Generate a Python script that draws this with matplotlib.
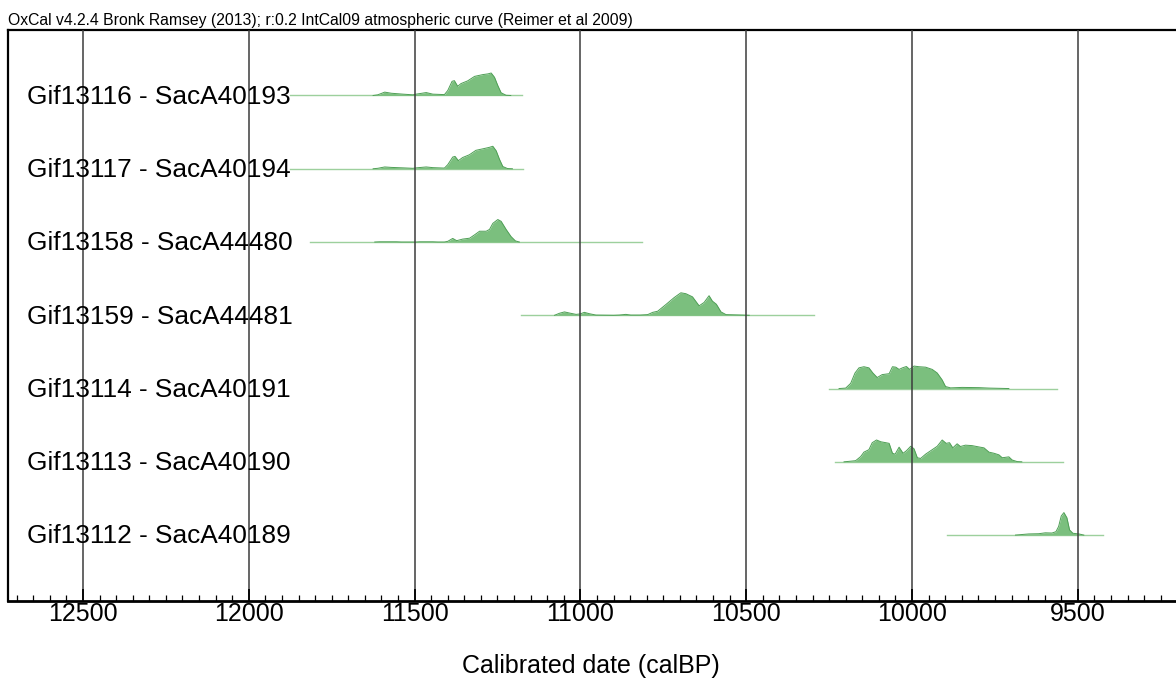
import matplotlib
matplotlib.use("Agg")
import matplotlib.pyplot as plt
from matplotlib.ticker import MultipleLocator
from matplotlib.transforms import blended_transform_factory

plt.rcParams['font.family'] = ['Liberation Sans', 'DejaVu Sans']

# ---------------- data ----------------
labels = ["Gif13116 - SacA40193", "Gif13117 - SacA40194", "Gif13158 - SacA44480",
          "Gif13159 - SacA44481", "Gif13114 - SacA40191", "Gif13113 - SacA40190",
          "Gif13112 - SacA40189"]
range_start = [11875, 11875, 11816, 11178, 10250, 10232, 9895]
range_end = [11175, 11172, 10813, 10295, 9563, 9545, 9425]

years_1 = [11625, 11611, 11590, 11570, 11535, 11505, 11495, 11465, 11445, 11410, 11400, 11387, 11380,
           11370, 11360, 11340, 11319, 11294, 11279, 11269, 11259, 11249, 11239, 11224, 11210]
dens_1 = [0, 0.03, 0.15, 0.10, 0.06, 0.03, 0.06, 0.13, 0.06, 0.04, 0.22, 0.63, 0.66,
          0.41, 0.53, 0.65, 0.85, 0.93, 0.96, 1.0, 0.81, 0.44, 0.12, 0.01, 0]

years_2 = [11625, 11611, 11590, 11570, 11535, 11505, 11495, 11465, 11445, 11410, 11400, 11385, 11378,
           11368, 11355, 11335, 11315, 11290, 11275, 11264, 11254, 11244, 11234, 11220, 11205]
dens_2 = [0, 0.02, 0.08, 0.06, 0.04, 0.02, 0.04, 0.08, 0.05, 0.03, 0.18, 0.52, 0.55,
          0.36, 0.50, 0.62, 0.82, 0.90, 0.95, 1.0, 0.80, 0.42, 0.10, 0.01, 0]

years_3 = [11620, 11606, 11555, 11540, 11495, 11485, 11445, 11430, 11410, 11400, 11385, 11373, 11355,
           11334, 11319, 11304, 11284, 11274, 11264, 11249, 11239, 11224, 11209, 11196, 11184]
dens_3 = [0, 0.01, 0.01, 0, 0, 0.01, 0.01, 0, 0, 0.03, 0.16, 0.06, 0.13,
          0.17, 0.32, 0.48, 0.48, 0.56, 0.83, 1.0, 0.92, 0.56, 0.24, 0.05, 0]

years_4 = [11078, 11063, 11048, 11033, 11013, 11001, 10988, 10973, 10953, 10900, 10883, 10863, 10848,
           10820, 10797, 10782, 10767, 10742, 10717, 10697, 10682, 10662, 10642, 10627, 10612,
           10602, 10590, 10576, 10561, 10511, 10491]
dens_4 = [0, 0.09, 0.15, 0.10, 0.04, 0.06, 0.13, 0.07, 0.01, 0, 0.01, 0.04, 0.01,
          0.01, 0.03, 0.13, 0.18, 0.48, 0.79, 1.0, 0.96, 0.82, 0.42, 0.57, 0.87,
          0.63, 0.49, 0.15, 0.03, 0.01, 0]

years_5 = [10220, 10200, 10185, 10172, 10160, 10145, 10130, 10118, 10105, 10090, 10069, 10059, 10049,
           10039, 10029, 10017, 10007, 9994, 9979, 9959, 9939, 9924, 9909, 9899, 9884, 9849,
           9798, 9768, 9708]
dens_5 = [0, 0.02, 0.23, 0.69, 0.92, 0.97, 0.92, 0.69, 0.49, 0.62, 0.66, 0.97, 0.95,
          0.85, 0.92, 0.98, 0.85, 1.0, 0.97, 0.95, 0.85, 0.69, 0.38, 0.09, 0.03, 0.05,
          0.04, 0.02, 0]

years_6 = [10205, 10190, 10170, 10155, 10145, 10130, 10120, 10107, 10094, 10079, 10069, 10059, 10051,
           10039, 10027, 10017, 10004, 9994, 9984, 9974, 9959, 9939, 9924, 9909, 9897, 9887,
           9877, 9864, 9854, 9839, 9819, 9798, 9783, 9768, 9753, 9738, 9728, 9718, 9708,
           9698, 9683, 9669]
dens_6 = [0, 0.02, 0.05, 0.23, 0.43, 0.54, 0.85, 0.97, 0.89, 0.85, 0.82, 0.38, 0.34,
          0.65, 0.38, 0.49, 0.69, 0.58, 0.18, 0.15, 0.34, 0.54, 0.69, 0.97, 0.82, 0.85,
          0.62, 0.80, 0.68, 0.74, 0.72, 0.66, 0.62, 0.43, 0.38, 0.31, 0.18, 0.20, 0.22,
          0.08, 0.01, 0]

years_7 = [9688, 9648, 9618, 9598, 9578, 9566, 9558, 9550, 9542, 9533, 9525, 9515, 9497, 9482]
dens_7 = [0, 0.05, 0.06, 0.10, 0.09, 0.15, 0.38, 0.85, 1.0, 0.77, 0.23, 0.08, 0.05, 0]

dist_years = [years_1, years_2, years_3, years_4, years_5, years_6, years_7]
dist_dens = [dens_1, dens_2, dens_3, dens_4, dens_5, dens_6, dens_7]

title_text = "OxCal v4.2.4 Bronk Ramsey (2013); r:0.2 IntCal09 atmospheric curve (Reimer et al 2009)"
xlabel_text = "Calibrated date (calBP)"

# ---------------- figure ----------------
W, H = 1176, 682
fig = plt.figure(figsize=(W / 100, H / 100), dpi=100)
ax = fig.add_axes([8 / W, 1 - 601 / H, 1 - 8 / W, (601 - 30) / H])

peak = 0.307
fill_col = "#7bbf7e"
edge_col = "#4e9f55"
range_col = "#9dd09d"

for i, (ys, ds) in enumerate(zip(dist_years, dist_dens)):
    ax.plot([range_start[i], range_end[i]], [i, i], color=range_col, lw=1.0, zorder=1)
    top = [i - d * peak for d in ds]
    ax.fill_between(ys, [i] * len(ys), top, color=fill_col, lw=0, zorder=1.2)
    ax.plot(ys, top, color=edge_col, lw=0.7, zorder=1.3)

trans = blended_transform_factory(ax.transAxes, ax.transData)
for i, lab in enumerate(labels):
    ax.text((27 - 8) / (W - 8), i + 0.115, lab, transform=trans, ha="left", va="baseline",
            fontsize=18.9, color="black", zorder=3)

ax.set_xlim(12726, 9204)
ax.set_ylim(6.9, -0.894)
ax.xaxis.set_major_locator(MultipleLocator(500))
ax.xaxis.set_minor_locator(MultipleLocator(50))
ax.set_yticks([])
ax.set_axisbelow(False)
ax.grid(axis="x", which="major", color="#3c3c3c", lw=1.1)

ax.tick_params(axis="x", which="major", direction="in", length=9, width=1.3,
               labelsize=18, pad=1, colors="black")
ax.tick_params(axis="x", which="minor", direction="in", length=4.5, width=0.9)

for s in ["left", "top"]:
    ax.spines[s].set_linewidth(1.6)
ax.spines["bottom"].set_linewidth(2.0)
ax.spines["right"].set_visible(False)

fig.text(8 / W, 1 - 20 / H, title_text, ha="left", va="center", fontsize=11.3)
fig.text(591 / W, 1 - 666 / H, xlabel_text, ha="center", va="center", fontsize=18)

fig.savefig("out.png", dpi=100)
